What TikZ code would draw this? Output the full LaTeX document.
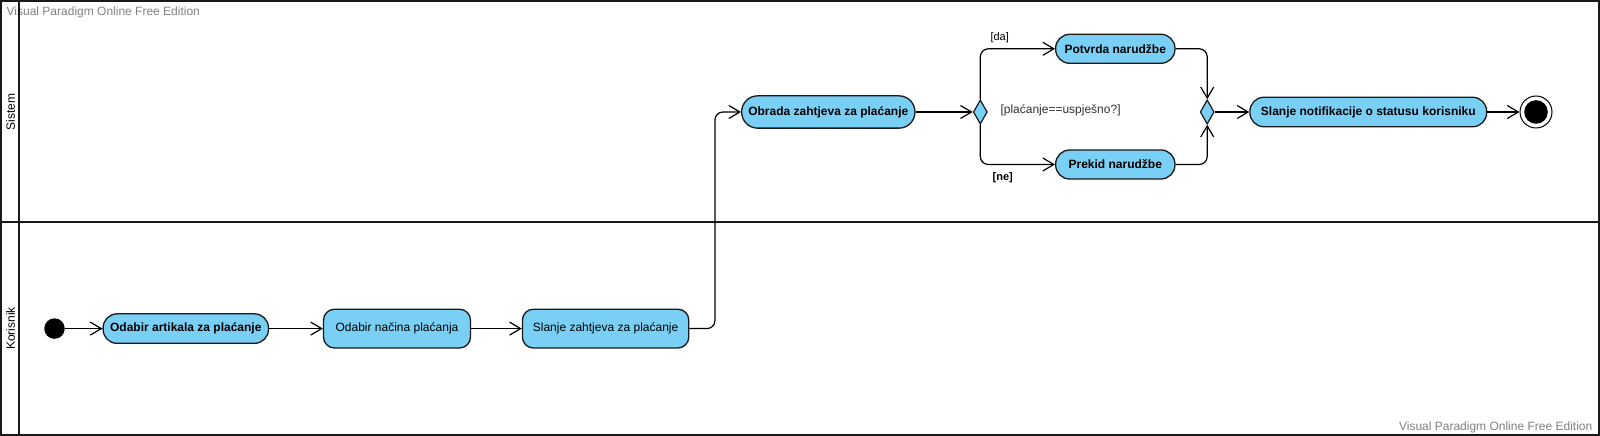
\documentclass[tikz,border=0pt]{standalone}
\usepackage{fontspec}
\setmainfont{Liberation Sans}
\usepackage{tikz}
\usetikzlibrary{positioning}
\usetikzlibrary{arrows.meta}
\usetikzlibrary{shapes.geometric}

\definecolor{actfill}{RGB}{122,207,245}
\definecolor{wmgray}{RGB}{128,128,128}

\tikzset{
  act/.style={draw=black!90, fill=actfill, line width=1.3pt, rounded corners=14pt,
    minimum height=29.5pt, inner sep=2pt, font=\fontsize{12}{14}\selectfont\bfseries},
  actbox/.style={act, rounded corners=11pt, minimum height=38.8pt,
    font=\fontsize{12}{14}\selectfont},
  decision/.style={diamond, draw=black!90, fill=actfill, line width=1.2pt,
    minimum width=14pt, minimum height=24.3pt, inner sep=0pt},
  startnode/.style={circle, fill=black, minimum size=20.5pt, inner sep=0pt},
  endnode/.style={circle, draw=black, line width=1pt, fill=white, minimum size=32pt,
    inner sep=0pt, path picture={\fill[black] (path picture bounding box.center) circle (11.8pt);}},
  guard/.style={font=\fontsize{11}{13}\selectfont, inner sep=2pt},
  lane/.style={font=\fontsize{12}{14}\selectfont, rotate=90, inner sep=0pt},
  watermark/.style={text=wmgray, font=\fontsize{12}{14}\selectfont, inner sep=0pt},
  flow/.style={->, >={Straight Barb[length=11pt,width=13pt]}, line width=1.2pt,
    rounded corners=8pt}
}

\begin{document}
\begin{tikzpicture}[x=1pt,y=1pt,node distance=2cm,on grid,auto]
   \useasboundingbox (0,0) rectangle (1600,436);
   \node[watermark, anchor=west] (w_1) at (6.5,424) {Visual Paradigm Online Free Edition};
   \node[watermark, anchor=east] (w_2) at (1592.5,8.5) {Visual Paradigm Online Free Edition};
   \draw[line width=2pt, draw=black!90] (1,1) rectangle (1599,435);
   \draw[line width=2pt, draw=black!90] (1,213.5) -- (1599,213.5);
   \draw[line width=2pt, draw=black!90] (19,1) -- (19,435);
   \node[lane] (l_s) at (10.5,324) {Sistem};
   \node[lane] (l_k) at (10.5,107.4) {Korisnik};

   \node[startnode] (init) at (54.5,107.4) {};
   \node[act, minimum width=165.4pt] (a_1) [right=131.3pt of init] {Odabir artikala za plaćanje};
   \node[actbox, minimum width=147pt] (a_2) [right=211.2pt of a_1] {Odabir načina plaćanja};
   \node[actbox, minimum width=166.4pt] (a_3) [right=208.6pt of a_2] {Slanje zahtjeva za plaćanje};
   \node[act, minimum width=173.3pt, minimum height=32.3pt, rounded corners=16pt] (a_4)
      [above right=216.6pt and 222.7pt of a_3] {Obrada zahtjeva za plaćanje};
   \node[decision] (d_1) [right=152pt of a_4] {};
   \node[act, minimum width=119.3pt, minimum height=29pt] (a_5)
      [above right=63.2pt and 135pt of d_1] {Potvrda narudžbe};
   \node[act, minimum width=119.3pt, minimum height=29pt] (a_6)
      [below right=52.5pt and 135pt of d_1] {Prekid narudžbe};
   \node[decision] (m_1) [right=226.9pt of d_1] {};
   \node[act, minimum width=236.7pt] (a_7) [right=161.1pt of m_1] {Slanje notifikacije o statusu korisniku};
   \node[endnode] (final) [right=167.7pt of a_7] {};
   \node[guard, anchor=west, text=black!80, font=\fontsize{12}{14}\selectfont] (g_1)
      at (998.3,326) {[plaćanje==uspješno?]};

   \path[flow]
    (init) edge (a_1)
    (a_1) edge (a_2)
    (a_2) edge (a_3)
    (a_4) edge (d_1)
    (m_1) edge (a_7)
    (a_7) edge (final);
   \draw[flow] (a_3.east) -- ++(25.5,0) |- (a_4);
   \draw[flow] (d_1) |- node[guard, above, pos=.63, yshift=3pt] {[da]} (a_5);
   \draw[flow] (d_1) |- node[guard, below, pos=.65, yshift=-5pt, font=\fontsize{11}{13}\selectfont\bfseries] {[ne]} (a_6);
   \draw[flow] (a_5) -| (m_1);
   \draw[flow] (a_6) -| (m_1);
\end{tikzpicture}
\end{document}
